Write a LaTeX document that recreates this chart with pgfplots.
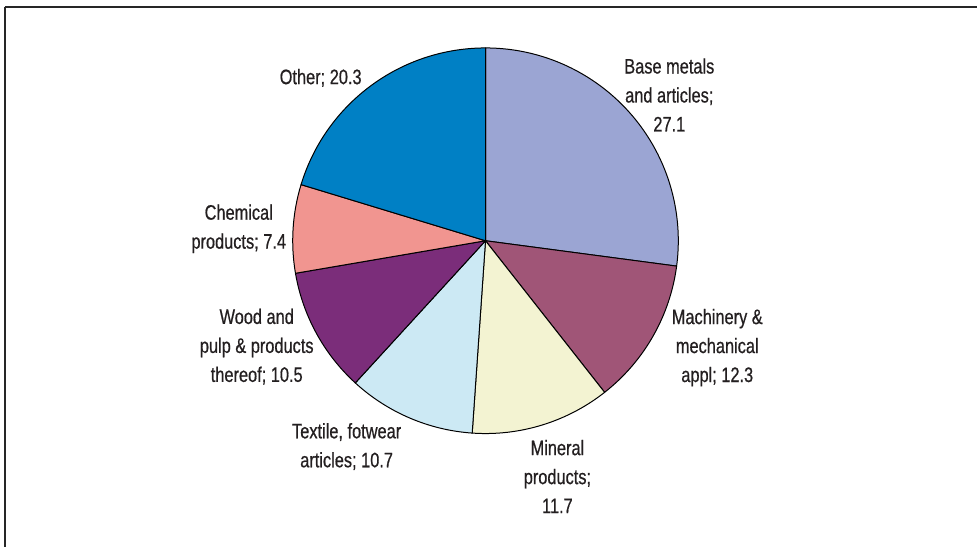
\documentclass[border=0pt]{standalone}
\usepackage{pgfplots}
\pgfplotsset{compat=1.18}
\usepackage{pgfplotstable}
\usepackage{fontspec}
\setmainfont{Liberation Sans}[FakeStretch=0.78,FakeBold=0.6]
\definecolor{cBase}{HTML}{9BA5D3}
\definecolor{cMach}{HTML}{A05577}
\definecolor{cMin}{HTML}{F3F3D2}
\definecolor{cTex}{HTML}{CCE9F4}
\definecolor{cWood}{HTML}{7B2D7A}
\definecolor{cChem}{HTML}{F19590}
\definecolor{cOther}{HTML}{0080C5}
\definecolor{txt}{HTML}{231F20}
\pgfplotstableread{
value color
27.1 cBase
12.3 cMach
11.7 cMin
10.7 cTex
10.5 cWood
7.4 cChem
20.3 cOther
}\piedata
\begin{document}
\begin{tikzpicture}
\begin{axis}[width=489pt,height=274pt,scale only axis,
  xmin=0,xmax=978,ymin=0,ymax=548,hide axis,clip=false]
\path (axis cs:0,0) rectangle (axis cs:978,548);
\pgfplotsextra{
  \xdef\curangle{90}
  \pgfplotstablegetrowsof{\piedata}
  \pgfmathtruncatemacro\nrows{\pgfplotsretval-1}
  \foreach \i in {0,...,\nrows}{
    \pgfplotstablegetelem{\i}{value}\of\piedata \let\v\pgfplotsretval
    \pgfplotstablegetelem{\i}{color}\of\piedata \let\col\pgfplotsretval
    \pgfmathsetmacro\endangle{\curangle-3.6*\v}
    \filldraw[fill=\col,draw=black,line width=0.5pt,line join=round]
      (axis cs:486,307) -- ++(\curangle:96.5pt)
      arc[start angle=\curangle,end angle=\endangle,radius=96.5pt] -- cycle;
    \xdef\curangle{\endangle}
  }
  \draw[line width=1pt,black!85] (axis cs:5,541) -- (axis cs:978,541);
  \draw[line width=1pt,black!85] (axis cs:5,541) -- (axis cs:5,0);
}
\begin{scope}[every node/.style={align=center,text=txt,font=\fontsize{10.5}{14.5}\selectfont,inner sep=0pt}]
\node at (axis cs:670,453) {Base metals\\and articles;\\27.1};
\node at (axis cs:321,470) {Other; 20.3};
\node at (axis cs:239,319) {Chemical\\products; 7.4};
\node at (axis cs:257,201) {Wood and\\pulp \& products\\thereof; 10.5};
\node at (axis cs:718,200) {Machinery \&\\mechanical\\appl; 12.3};
\node at (axis cs:558,71) {Mineral\\products;\\11.7};
\node at (axis cs:347,101) {Textile, fotwear\\articles; 10.7};
\end{scope}
\end{axis}
\end{tikzpicture}
\end{document}
